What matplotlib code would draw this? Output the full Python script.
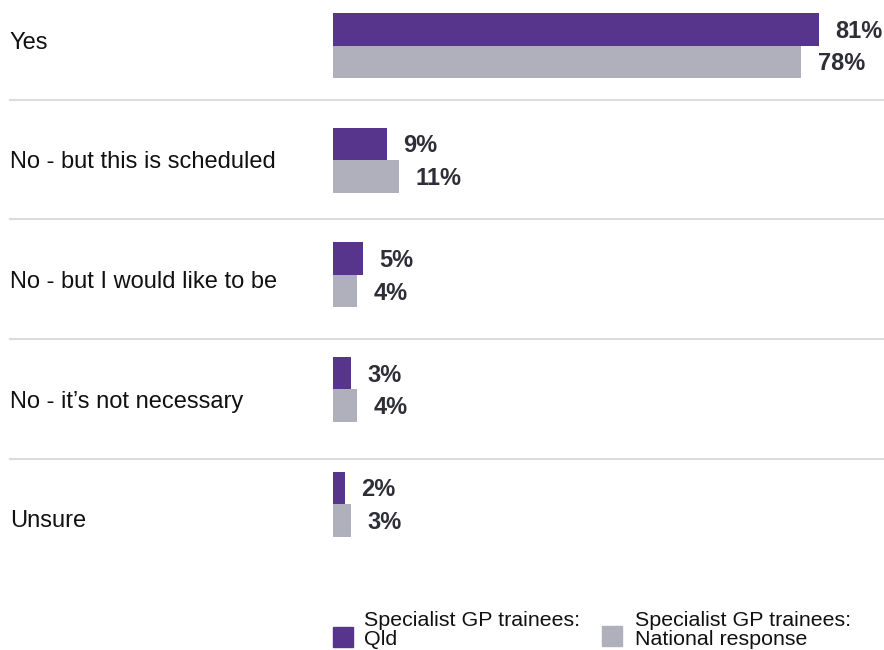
import matplotlib.pyplot as plt
from matplotlib.patches import Rectangle

plt.rcParams['font.family'] = ['Liberation Sans', 'DejaVu Sans']

categories = ['Yes', 'No - but this is scheduled', 'No - but I would like to be',
              'No - it\u2019s not necessary', 'Unsure']
qld = [81, 9, 5, 3, 2]
national = [78, 11, 4, 4, 3]
series_names = ['Specialist GP trainees:\nQld', 'Specialist GP trainees:\nNational response']
colors = ['#58358C', '#B0B0BC']

W, H = 884, 650
fig = plt.figure(figsize=(W / 100, H / 100), dpi=100)
# axes over whole figure, y in pixels (top down), x in percent with 0 at px 333
ax = fig.add_axes([0, 0, 1, 1])
px_per_pct = 6.0
ax.set_xlim(-333 / px_per_pct, (W - 333) / px_per_pct)
ax.set_ylim(H, 0)
ax.axis('off')

bar_h = 32.5
for i, (q, n) in enumerate(zip(qld, national)):
    yc = 45.7 + i * 114.6
    ax.barh(yc - bar_h / 2, q, height=bar_h, color=colors[0])
    ax.barh(yc + bar_h / 2, n, height=bar_h, color=colors[1])
    for v, y in ((q, yc - bar_h / 2), (n, yc + bar_h / 2)):
        ax.text(v + 16.5 / px_per_pct, y + 8.4, f'{v}%', fontsize=17, fontweight='bold',
                color='#2E2E38', va='baseline', ha='left')
    # category label
    ty = 40.5 + i * 119.6
    ax.text(-323 / px_per_pct, ty + 8.4, categories[i], fontsize=17, color='#111111',
            va='baseline', ha='left')

# separators
for i in range(4):
    ax.axhline(99.5 + i * 119.7, xmin=10 / W, xmax=1, color='#DCDCDC', lw=1.5)

# legend, drawn by hand in pixel coordinates (nudged up so descenders fit)
for (sx, sy, tx), name, c in zip([(333, 627, 364), (601.5, 626, 635)], series_names, colors):
    fig.add_artist(Rectangle((sx / W, 1 - (sy + 19.5) / H), 20 / W, 19.5 / H,
                             transform=fig.transFigure, color=c))
    line1, line2 = name.split('\n')
    fig.text(tx / W, 1 - 625.5 / H, line1, fontsize=15.4, color='#111111', va='baseline')
    fig.text(tx / W, 1 - 645 / H, line2, fontsize=15.4, color='#111111', va='baseline')

fig.savefig('out.png', dpi=100)
